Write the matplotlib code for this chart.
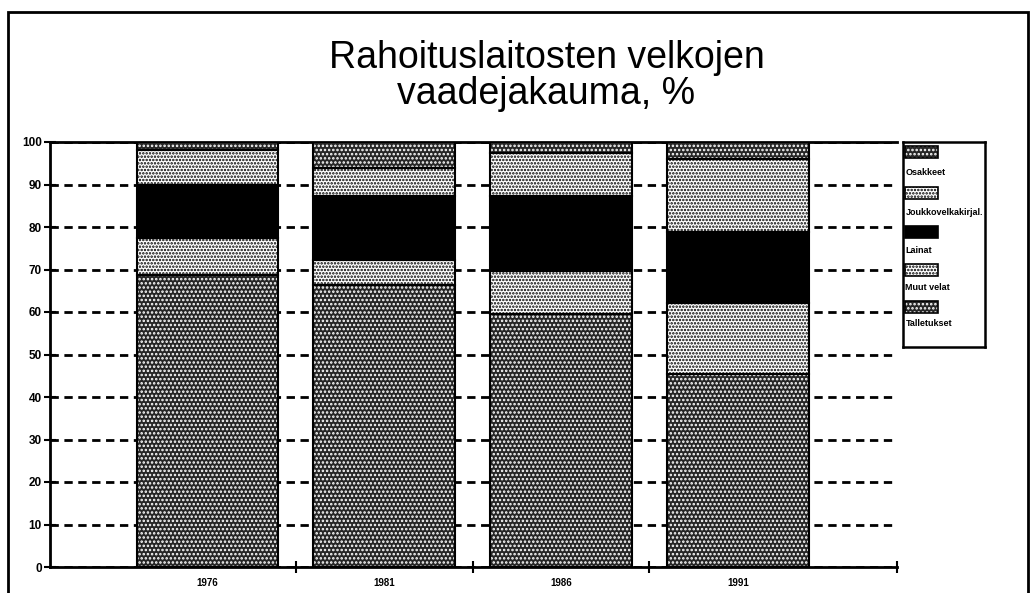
import matplotlib
matplotlib.use("Agg")
import matplotlib.pyplot as plt
from matplotlib.patches import Rectangle

vuodet = ["1976", "1981", "1986", "1991"]
talletukset = [68.7, 66.3, 59.6, 45.4]
muut_velat = [8.7, 5.9, 10.0, 16.8]
lainat = [12.4, 15.1, 17.7, 16.6]
joukkovelkakirjat = [8.4, 6.5, 10.0, 17.1]
osakkeet = [1.8, 6.2, 2.7, 4.1]

sarjat = [
    ("Talletukset", talletukset),
    ("Muut velat", muut_velat),
    ("Lainat", lainat),
    ("Joukkovelkakirjal.", joukkovelkakirjat),
    ("Osakkeet", osakkeet),
]
# rasterityylit: (taustaväri, rasterin väri, rasteri)
tyylit = {
    "Talletukset": ("#262626", "white", "...."),
    "Muut velat": ("white", "black", "....."),
    "Lainat": ("black", "black", None),
    "Joukkovelkakirjal.": ("white", "black", "....."),
    "Osakkeet": ("#262626", "white", "...."),
}

plt.rcParams["font.family"] = ["Liberation Sans", "DejaVu Sans"]
plt.rcParams["hatch.linewidth"] = 1.2

fig = plt.figure(figsize=(10.33, 5.93), dpi=100)
ax = fig.add_axes([50 / 1033, 1 - 567 / 593, 847 / 1033, 425 / 593])

x = list(range(len(vuodet)))
pohja = [0] * len(vuodet)
for nimi, arvot in sarjat:
    fc, hc, hatch = tyylit[nimi]
    ax.bar(x, arvot, 0.8, bottom=pohja, color=fc, edgecolor=hc, hatch=hatch,
           linewidth=0, zorder=3)
    ax.bar(x, arvot, 0.8, bottom=pohja, fill=False, edgecolor="black",
           linewidth=1.5, zorder=4)
    pohja = [p + a for p, a in zip(pohja, arvot)]

ax.set_xlim(-0.89, 3.9)
ax.set_ylim(0, 100)
ax.set_yticks(range(0, 101, 10))
ax.set_xticks(x, vuodet, fontsize=7, fontweight="bold")
ax.set_xticks([0.5, 1.5, 2.5, 3.9], minor=True)
ax.tick_params(axis="x", which="major", length=0, pad=8)
ax.tick_params(axis="x", which="minor", length=8, width=1.5, direction="inout")
ax.tick_params(axis="y", length=8, width=1.5, direction="inout", labelsize=8.5, pad=2)
for t in ax.get_yticklabels():
    t.set_fontweight("bold")

ax.yaxis.grid(True, color="black", linestyle=(0, (3, 2)), linewidth=2, zorder=1)
ax.set_axisbelow(True)
for s in ["left", "bottom", "top"]:
    ax.spines[s].set_linewidth(2)
ax.spines["right"].set_visible(False)

fig.text(0.529, 0.872, "Rahoituslaitosten velkojen\nvaadejakauma, %",
         ha="center", va="center", fontsize=27, linespacing=1.0)

# selite
lax = fig.add_axes([903 / 1033, 1 - 347 / 593, 82 / 1033, 205 / 593])
lax.set_xlim(0, 1)
lax.set_ylim(0, 1)
lax.set_xticks([])
lax.set_yticks([])
for s in lax.spines.values():
    s.set_linewidth(1.8)
patch_y = [0.951, 0.751, 0.561, 0.376, 0.195]
teksti_y = [0.849, 0.654, 0.473, 0.288, 0.117]
for (nimi, _), py, ty in zip(reversed(sarjat), patch_y, teksti_y):
    fc, hc, hatch = tyylit[nimi]
    lax.add_patch(Rectangle((0.03, py - 0.03), 0.4, 0.06, facecolor=fc,
                            edgecolor=hc, hatch=hatch, linewidth=0))
    lax.add_patch(Rectangle((0.03, py - 0.03), 0.4, 0.06, fill=False,
                            edgecolor="black", linewidth=1.2))
    lax.text(0.03, ty, nimi, fontsize=6.5, fontweight="bold", va="center")

# kehys koko kuvan ympärille
fig.patches.append(Rectangle((8 / 1033, -0.01), 1020 / 1033, 1 - 12 / 593 + 0.01,
                             transform=fig.transFigure, fill=False,
                             edgecolor="black", linewidth=2))

fig.savefig("out.png", dpi=100)
